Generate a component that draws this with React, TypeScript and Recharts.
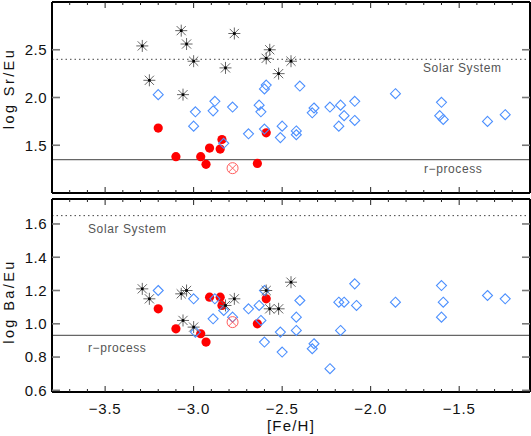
import { ReferenceLine, Scatter, ScatterChart, XAxis, YAxis } from "recharts";

// [Fe/H] and abundance ratios
const FEH_STAR = [-3.29, -3.25, -3.07, -3.06, -3.04, -3.0, -2.82, -2.77, -2.59, -2.57, -2.52, -2.45];
const SREU_STAR = [2.54, 2.18, 2.7, 2.03, 2.56, 2.38, 2.31, 2.67, 2.41, 2.5, 2.25, 2.38];
const BAEU_STAR = [1.21, 1.15, 1.18, 1.02, 1.2, 0.98, 1.11, 1.15, 1.2, 1.09, 1.09, 1.25];

const FEH_RED = [-3.2, -3.1, -2.96, -2.93, -2.91, -2.85, -2.84, -2.64, -2.59];
const SREU_RED = [1.68, 1.38, 1.38, 1.3, 1.47, 1.46, 1.56, 1.31, 1.63];
const BAEU_RED = [1.09, 0.97, 0.94, 0.89, 1.16, 1.16, 1.11, 1.0, 1.15];

const FEH_OPEN = [-2.78];
const SREU_OPEN = [1.26];
const BAEU_OPEN = [1.01];

const FEH_CMP_SR = [
  -3.2, -2.99, -3.0, -2.88, -2.89, -2.78, -2.83, -2.63, -2.62, -2.69, -2.6, -2.59, -2.6, -2.4, -2.5, -2.51,
  -2.42, -2.42, -2.32, -2.33, -2.23, -2.17, -2.15, -2.18, -2.09, -2.09, -1.86, -1.6, -1.61, -1.59, -1.34, -1.24,
];
const SREU_CMP = [
  2.03, 1.85, 1.7, 1.96, 1.86, 1.9, 1.52, 1.92, 1.85, 1.62, 1.67, 2.13, 2.09, 2.12, 1.7, 1.58,
  1.65, 1.61, 1.89, 1.84, 1.9, 1.92, 1.81, 1.7, 1.96, 1.76, 2.04, 1.95, 1.81, 1.77, 1.75, 1.82,
];

const FEH_CMP_BA = [
  -3.2, -3.0, -2.99, -2.89, -2.88, -2.83, -2.78, -2.69, -2.63, -2.62, -2.6, -2.6, -2.51, -2.5, -2.4, -2.42,
  -2.42, -2.32, -2.33, -2.23, -2.18, -2.15, -2.17, -2.09, -2.08, -1.86, -1.6, -1.59, -1.6, -1.34, -1.24,
];
const BAEU_CMP = [
  1.2, 1.15, 0.95, 1.03, 1.15, 1.08, 1.04, 1.09, 1.11, 1.02, 1.2, 0.89, 0.95, 0.83, 1.14, 1.04,
  0.96, 0.88, 0.85, 0.73, 1.13, 1.13, 0.96, 1.24, 1.11, 1.13, 1.23, 1.13, 1.04, 1.17, 1.15,
];

const SOLAR_SREU = 2.4;
const RPROC_SREU = 1.35;
const SOLAR_BAEU = 1.65;
const RPROC_BAEU = 0.93;

const FEH_MAJOR = [-3.5, -3.0, -2.5, -2.0, -1.5];
const SREU_TICKS = [1.5, 2.0, 2.5];
const BAEU_TICKS = [0.6, 0.8, 1.0, 1.2, 1.4, 1.6];

const FEH_DOMAIN: [number, number] = [-3.8, -1.1];
const SREU_DOMAIN: [number, number] = [1.0, 3.0];
const BAEU_DOMAIN: [number, number] = [0.59, 1.75];

// minor ticks every 0.1 dex
const FEH_TICKS: number[] = [];
for (let i = 1; i < 27; i++) FEH_TICKS.push(Math.round((-3.8 + i * 0.1) * 10) / 10);

const FONT = "'Liberation Sans', Arial, sans-serif";
const TXT = "#555";
const BLUE = "#4d90fe";

const pts = (xs: number[], ys: number[]) => xs.map((x, i) => ({ x, y: ys[i] }));
const fmt = (v: number) => v.toFixed(1).replace("-", "\u2212");
const isMajor = (v: number) => FEH_MAJOR.some((m) => Math.abs(m - v) < 1e-6);

const Star = (p: any) => {
  const { cx, cy } = p;
  const r = 6;
  const d = 4.6;
  return (
    <g>
      <g style={{ stroke: "#666", strokeWidth: 1 }}>
        <line x1={cx - r} y1={cy} x2={cx + r} y2={cy} />
        <line x1={cx} y1={cy - r} x2={cx} y2={cy + r} />
        <line x1={cx - d} y1={cy - d} x2={cx + d} y2={cy + d} />
        <line x1={cx - d} y1={cy + d} x2={cx + d} y2={cy - d} />
      </g>
      <rect x={cx - 1.3} y={cy - 1.3} width={2.6} height={2.6} style={{ fill: "#000", stroke: "none" }} />
    </g>
  );
};

const Diamond = (p: any) => {
  const { cx, cy } = p;
  const s = 5;
  return (
    <polygon
      points={`${cx},${cy - s} ${cx + s},${cy} ${cx},${cy + s} ${cx - s},${cy}`}
      style={{ fill: "none", stroke: BLUE, strokeWidth: 1.1 }}
    />
  );
};

const RedDot = (p: any) => <circle cx={p.cx} cy={p.cy} r={4.6} style={{ fill: "#ff0000", stroke: "none" }} />;

const OpenCross = (p: any) => {
  const { cx, cy } = p;
  const r = 5.5;
  const d = 3.9;
  return (
    <g style={{ stroke: "#ff6060", strokeWidth: 1, fill: "none" }}>
      <circle cx={cx} cy={cy} r={r} />
      <line x1={cx - d} y1={cy - d} x2={cx + d} y2={cy + d} />
      <line x1={cx - d} y1={cy + d} x2={cx + d} y2={cy - d} />
    </g>
  );
};

const xTick = (side: "bottom" | "top", withLabel: boolean) => (p: any) => {
  const v = p.payload.value;
  const major = isMajor(v);
  const dir = side === "bottom" ? -1 : 1;
  const len = major ? 6 : 3;
  return (
    <g>
      <line x1={p.x} x2={p.x} y1={p.y} y2={p.y + dir * len} stroke="#222" strokeWidth={1} />
      {withLabel && major && (
        <text x={p.x} y={p.y + 22} textAnchor="middle" fontSize={15} letterSpacing={0.8} fill="#111" fontFamily={FONT}>
          {fmt(v)}
        </text>
      )}
    </g>
  );
};

const yTick = (side: "left" | "right") => (p: any) => {
  const dir = side === "left" ? 1 : -1;
  return (
    <g>
      <line x1={p.x} x2={p.x + dir * 8} y1={p.y} y2={p.y} stroke="#777" strokeWidth={1.6} />
      {side === "left" && (
        <text x={p.x - 5} y={p.y + 5.4} textAnchor="end" fontSize={15} letterSpacing={0.5} fill="#111" fontFamily={FONT}>
          {p.payload.value.toFixed(1)}
        </text>
      )}
    </g>
  );
};

const refText = (text: string, fromLeft: number | null, fromRight: number | null, dy: number) => (p: any) => {
  const vb = p.viewBox;
  if (!vb) return null;
  const x = fromLeft != null ? vb.x + fromLeft : vb.x + vb.width - (fromRight as number);
  return (
    <text x={x} y={vb.y + dy} fontSize={12} letterSpacing={0.6} fill={TXT} fontFamily={FONT}>
      {text}
    </text>
  );
};

const yTitle = (text: string, shift: number) => (p: any) => {
  const vb = p.viewBox;
  if (!vb) return null;
  const cx = 9;
  const cy = vb.y + vb.height / 2 + shift;
  return (
    <text
      x={cx}
      y={cy}
      transform={`rotate(-90 ${cx} ${cy})`}
      textAnchor="middle"
      dominantBaseline="central"
      fontSize={14.5}
      letterSpacing={2.4}
      fill="#111"
      fontFamily={FONT}
    >
      {text}
    </text>
  );
};

const xTitle = (p: any) => {
  const vb = p.viewBox;
  if (!vb) return null;
  return (
    <text x={vb.x + vb.width / 2} y={vb.y + 39} textAnchor="middle" fontSize={15} letterSpacing={1.2} fill="#111" fontFamily={FONT}>
      [Fe/H]
    </text>
  );
};

const frame = { stroke: "#000", strokeWidth: 2 };

function Panel(props: {
  width: number;
  height: number;
  bottomHeight: number;
  marginBottom: number;
  domain: [number, number];
  yTicks: number[];
  stars: { x: number; y: number }[];
  cmp: { x: number; y: number }[];
  red: { x: number; y: number }[];
  open: { x: number; y: number }[];
  solar: number;
  rproc: number;
  solarLabel: (p: any) => any;
  rprocLabel: (p: any) => any;
  yLabel: (p: any) => any;
  showX: boolean;
}) {
  return (
    <ScatterChart
      width={props.width}
      height={props.height}
      margin={{ top: 1, right: 0, bottom: props.marginBottom, left: 0 }}
      style={{ fontFamily: FONT }}
    >
      <XAxis
        dataKey="x"
        type="number"
        domain={FEH_DOMAIN}
        allowDataOverflow
        ticks={FEH_TICKS}
        interval={0}
        tickSize={0}
        tickMargin={0}
        tickLine={false}
        axisLine={frame}
        height={props.bottomHeight}
        tick={xTick("bottom", props.showX)}
        label={props.showX ? xTitle : undefined}
      />
      <XAxis
        xAxisId="top"
        orientation="top"
        dataKey="x"
        type="number"
        domain={FEH_DOMAIN}
        allowDataOverflow
        ticks={FEH_TICKS}
        interval={0}
        tickSize={0}
        tickMargin={0}
        tickLine={false}
        axisLine={frame}
        height={1}
        tick={xTick("top", false)}
      />
      <YAxis
        dataKey="y"
        type="number"
        domain={props.domain}
        allowDataOverflow
        ticks={props.yTicks}
        interval={0}
        tickSize={0}
        tickMargin={0}
        tickLine={false}
        axisLine={frame}
        width={52}
        tick={yTick("left")}
        label={props.yLabel}
      />
      <YAxis
        yAxisId="right"
        orientation="right"
        dataKey="y"
        type="number"
        domain={props.domain}
        allowDataOverflow
        ticks={props.yTicks}
        interval={0}
        tickSize={0}
        tickMargin={0}
        tickLine={false}
        axisLine={frame}
        width={1}
        tick={yTick("right")}
      />
      <ReferenceLine y={props.solar} stroke="#444" strokeDasharray="1.5 3" label={props.solarLabel} />
      <ReferenceLine y={props.rproc} stroke="#666" strokeWidth={1.2} label={props.rprocLabel} />
      <Scatter name="red" data={props.red} fill="#ff0000" shape={RedDot} isAnimationActive={false} />
      <Scatter name="cmp" data={props.cmp} fill={BLUE} stroke={BLUE} shape={Diamond} isAnimationActive={false} />
      <Scatter name="stars" data={props.stars} fill="#000" shape={Star} isAnimationActive={false} />
      <Scatter name="open" data={props.open} fill="#ff6060" shape={OpenCross} isAnimationActive={false} />
    </ScatterChart>
  );
}

export default function App() {
  return (
    <div style={{ position: "absolute", left: 0, top: 0, width: 531, height: 436, background: "#fff", fontFamily: FONT }}>
      <div style={{ position: "absolute", left: 0, top: 0 }}>
        <Panel
          width={531}
          height={198}
          bottomHeight={1}
          marginBottom={4}
          domain={SREU_DOMAIN}
          yTicks={SREU_TICKS}
          stars={pts(FEH_STAR, SREU_STAR)}
          cmp={pts(FEH_CMP_SR, SREU_CMP)}
          red={pts(FEH_RED, SREU_RED)}
          open={pts(FEH_OPEN, SREU_OPEN)}
          solar={SOLAR_SREU}
          rproc={RPROC_SREU}
          solarLabel={refText("Solar System", null, 107, 12.6)}
          rprocLabel={refText("r\u2212process", null, 106, 13)}
          yLabel={yTitle("log Sr/Eu", -9)}
          showX={false}
        />
      </div>
      <div style={{ position: "absolute", left: 0, top: 197 }}>
        <Panel
          width={531}
          height={239}
          bottomHeight={44}
          marginBottom={0}
          domain={BAEU_DOMAIN}
          yTicks={BAEU_TICKS}
          stars={pts(FEH_STAR, BAEU_STAR)}
          cmp={pts(FEH_CMP_BA, BAEU_CMP)}
          red={pts(FEH_RED, BAEU_RED)}
          open={pts(FEH_OPEN, BAEU_OPEN)}
          solar={SOLAR_BAEU}
          rproc={RPROC_BAEU}
          solarLabel={refText("Solar System", 36, null, 17)}
          rprocLabel={refText("r\u2212process", 36, null, 17)}
          yLabel={yTitle("log Ba/Eu", 6)}
          showX={true}
        />
      </div>
    </div>
  );
}
